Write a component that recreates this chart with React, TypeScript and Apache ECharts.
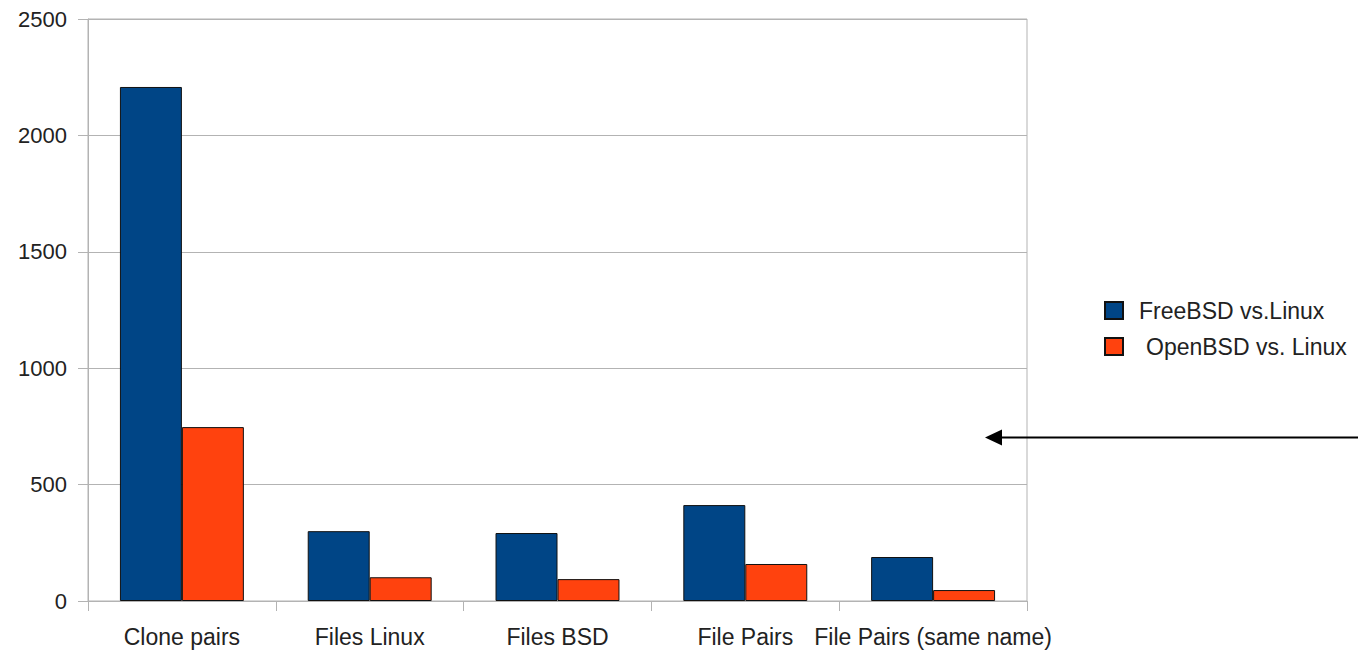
import React, { useEffect, useRef } from "react";
import * as echarts from "echarts";

const categories = ["Clone pairs", "Files Linux", "Files BSD", "File Pairs", "File Pairs (same name)"];
const freebsd = [2208, 300, 292, 412, 189];
const openbsd = [747, 102, 94, 159, 47];
const seriesNames = ["FreeBSD vs.Linux", "OpenBSD vs. Linux"];

export default function App() {
  const ref = useRef<HTMLDivElement>(null);
  useEffect(() => {
    if (!ref.current) return;
    const chart = echarts.init(ref.current, undefined, { renderer: "svg" });
    const font = "Liberation Sans, Arial, sans-serif";
    chart.setOption({
      animation: false,
      backgroundColor: "#ffffff",
      textStyle: { fontFamily: font },
      grid: {
        left: 88,
        right: 331,
        top: 19,
        bottom: 51,
        show: true,
        borderColor: "#b3b3b3",
        borderWidth: 1,
      },
      legend: {
        left: 1104,
        top: 299,
        padding: 0,
        orient: "vertical",
        itemWidth: 18,
        itemHeight: 17,
        itemGap: 13,
        icon: "rect",
        data: seriesNames,
        formatter: (name: string) =>
          name === seriesNames[1] ? "{b|" + name + "}" : "{a|" + name + "}",
        textStyle: {
          fontFamily: font,
          fontSize: 23,
          color: "#222",
          rich: {
            a: { fontFamily: font, fontSize: 23, color: "#222", padding: [0, 0, 0, 11] },
            b: { fontFamily: font, fontSize: 23, color: "#222", padding: [0, 0, 0, 18] },
          },
        },
      },
      xAxis: {
        type: "category",
        data: categories,
        boundaryGap: true,
        axisLine: { lineStyle: { color: "#b3b3b3", width: 1 } },
        axisTick: { show: true, length: 10, lineStyle: { color: "#b3b3b3" } },
        axisLabel: { fontFamily: font, fontSize: 23, color: "#222", margin: 24, interval: 0 },
      },
      yAxis: {
        type: "value",
        min: 0,
        max: 2500,
        interval: 500,
        axisLine: { show: true, lineStyle: { color: "#b3b3b3", width: 1 } },
        axisTick: { show: true, length: 10, lineStyle: { color: "#b3b3b3" } },
        axisLabel: {
          fontFamily: font,
          fontSize: 22,
          color: "#222",
          margin: 21,
          formatter: (v: number) => String(v),
        },
        splitLine: { lineStyle: { color: "#b3b3b3", width: 1 } },
      },
      series: [
        {
          name: seriesNames[0],
          type: "bar",
          data: freebsd,
          barGap: "0%",
          barCategoryGap: "34%",
          itemStyle: { color: "#004586", borderColor: "#111", borderWidth: 1 },
        },
        {
          name: seriesNames[1],
          type: "bar",
          data: openbsd,
          barGap: "0%",
          barCategoryGap: "34%",
          itemStyle: { color: "#ff420e", borderColor: "#111", borderWidth: 1 },
        },
      ],
      graphic: [
        {
          type: "line",
          shape: { x1: 1358, y1: 437.5, x2: 998, y2: 437.5 },
          style: { stroke: "#000", lineWidth: 2 },
        },
        {
          type: "polygon",
          shape: { points: [[985, 437.5], [1002, 429.5], [1002, 445.5]] },
          style: { fill: "#000" },
        },
      ],
    });
    return () => chart.dispose();
  }, []);
  return (
    <div
      ref={ref}
      style={{ position: "fixed", left: 0, top: 0, width: 1358, height: 652 }}
    />
  );
}
